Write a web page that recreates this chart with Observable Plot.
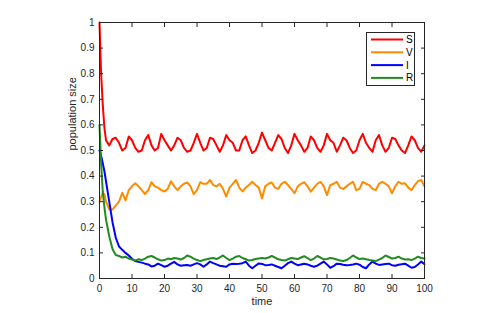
<!DOCTYPE html>
<html><head><meta charset="utf-8">
<script src="https://cdn.jsdelivr.net/npm/d3@7"></script>
<script src="https://cdn.jsdelivr.net/npm/@observablehq/plot@0.6"></script>
<style>
html,body{margin:0;padding:0;background:#fff;}
#wrap{position:relative;width:478px;height:313px;font-family:"Liberation Sans",Arial,sans-serif;}
#legend{position:absolute;left:366px;top:32px;width:47px;height:52px;border:1px solid #262626;background:#fff;}
#legend svg{display:block;}
</style></head><body><div id="wrap"></div>
<script>
const time = [0,0.5,1,1.5,2,
  3,4,5,6,7,8,9,10,
  11,12,13,14,15,16,17,18,19,20,
  21,22,23,24,25,26,27,28,29,30,
  31,32,33,34,35,36,37,38,39,40,
  41,42,43,44,45,46,47,48,49,50,
  51,52,53,54,55,56,57,58,59,60,
  61,62,63,64,65,66,67,68,69,70,
  71,72,73,74,75,76,77,78,79,80,
  81,82,83,84,85,86,87,88,89,90,
  91,92,93,94,95,96,97,98,99,100];
const S = [1.0,0.80,0.68,0.59,0.54,
  0.52,0.545,0.55,0.53,0.50,0.51,0.555,0.54,
  0.51,0.495,0.50,0.54,0.56,0.52,0.50,0.51,0.565,0.54,
  0.52,0.50,0.52,0.55,0.54,0.51,0.495,0.50,0.53,0.565,
  0.53,0.50,0.51,0.55,0.545,0.52,0.495,0.52,0.56,0.54,
  0.53,0.50,0.50,0.54,0.555,0.52,0.49,0.50,0.53,0.57,
  0.54,0.51,0.50,0.53,0.56,0.545,0.51,0.49,0.52,0.565,
  0.54,0.52,0.495,0.51,0.555,0.54,0.51,0.495,0.52,0.565,
  0.54,0.53,0.495,0.52,0.55,0.54,0.51,0.49,0.50,0.54,
  0.565,0.53,0.51,0.495,0.54,0.56,0.52,0.495,0.51,0.55,
  0.545,0.52,0.50,0.49,0.52,0.555,0.54,0.51,0.495,0.52];
const V = [0.30,0.32,0.335,0.33,0.30,
  0.27,0.27,0.285,0.30,0.335,0.305,0.345,0.36,
  0.372,0.36,0.345,0.33,0.345,0.376,0.36,0.355,0.345,0.34,
  0.35,0.38,0.36,0.345,0.36,0.37,0.375,0.36,0.33,0.345,
  0.376,0.37,0.37,0.385,0.365,0.36,0.37,0.35,0.32,0.355,
  0.37,0.385,0.355,0.34,0.355,0.365,0.378,0.365,0.355,0.313,
  0.36,0.37,0.375,0.355,0.35,0.37,0.378,0.365,0.35,0.333,
  0.36,0.37,0.376,0.36,0.339,0.355,0.37,0.378,0.36,0.326,
  0.365,0.37,0.378,0.355,0.35,0.36,0.37,0.378,0.345,0.35,
  0.378,0.37,0.365,0.35,0.345,0.37,0.378,0.37,0.36,0.333,
  0.36,0.378,0.37,0.372,0.355,0.345,0.365,0.38,0.385,0.36];
const I = [0.50,0.48,0.45,0.42,0.38,
  0.30,0.22,0.16,0.125,0.112,0.10,0.09,0.077,
  0.068,0.065,0.062,0.058,0.055,0.047,0.05,0.058,0.052,0.046,
  0.05,0.058,0.065,0.055,0.05,0.052,0.053,0.05,0.055,0.06,
  0.055,0.046,0.055,0.066,0.06,0.055,0.05,0.048,0.046,0.055,
  0.058,0.057,0.058,0.06,0.066,0.05,0.04,0.05,0.059,0.057,
  0.052,0.053,0.055,0.05,0.045,0.04,0.05,0.06,0.066,0.058,
  0.052,0.055,0.058,0.055,0.05,0.046,0.05,0.058,0.066,0.055,
  0.042,0.048,0.058,0.057,0.054,0.052,0.053,0.055,0.058,0.054,
  0.045,0.04,0.055,0.066,0.058,0.053,0.055,0.057,0.058,0.052,
  0.05,0.054,0.056,0.058,0.05,0.042,0.045,0.055,0.066,0.056];
const R = [0.60,0.45,0.34,0.28,0.23,
  0.165,0.115,0.092,0.088,0.082,0.085,0.078,0.074,
  0.07,0.075,0.072,0.078,0.085,0.088,0.082,0.075,0.07,0.072,
  0.078,0.075,0.08,0.078,0.074,0.08,0.09,0.085,0.078,0.072,
  0.068,0.072,0.075,0.078,0.08,0.076,0.082,0.09,0.08,0.072,
  0.078,0.085,0.088,0.08,0.075,0.07,0.072,0.076,0.078,0.08,
  0.078,0.082,0.088,0.082,0.075,0.072,0.07,0.075,0.08,0.078,
  0.076,0.082,0.087,0.08,0.072,0.078,0.088,0.082,0.075,0.076,
  0.08,0.078,0.074,0.07,0.068,0.072,0.08,0.09,0.082,0.076,
  0.078,0.075,0.072,0.07,0.068,0.074,0.08,0.09,0.084,0.078,
  0.08,0.085,0.078,0.074,0.075,0.072,0.078,0.085,0.08,0.078];
const seriesNames = ["S","V","I","R"];
const seriesColors = ["#ff0000","#ff8c00","#0000ff","#228b22"];
const xTicks = [0,10,20,30,40,50,60,70,80,90,100];
const xTickLabels = ["0","10","20","30","40","50","60","70","80","90","100"];
const yTicks = [0,0.1,0.2,0.3,0.4,0.5,0.6,0.7,0.8,0.9,1];
const yTickLabels = ["0","0.1","0.2","0.3","0.4","0.5","0.6","0.7","0.8","0.9","1"];
const xLabel = "time";
const yLabel = "population size";

const seriesValues = [S, V, I, R];
const data = [];
seriesNames.forEach((name, k) => {
  time.forEach((t, i) => data.push({series: name, t, v: seriesValues[k][i]}));
});

const axisColor = "#262626";
const chart = Plot.plot({
  width: 478, height: 313,
  marginLeft: 99, marginRight: 54, marginTop: 22, marginBottom: 35,
  style: {fontFamily: '"Liberation Sans", Arial, sans-serif', fontSize: "10px", color: axisColor, background: "#fff"},
  x: {domain: [0, 100], label: null},
  y: {domain: [0, 1], label: null},
  color: {domain: seriesNames, range: seriesColors},
  marks: [
    Plot.line(data, {x: "t", y: "v", z: "series", stroke: "series", strokeWidth: 2}),
    Plot.axisX(xTicks, {anchor: "bottom", tickSize: -4, tickPadding: 10, stroke: axisColor, fill: axisColor,
      tickFormat: d => xTickLabels[xTicks.indexOf(d)]}),
    Plot.axisX(xTicks, {anchor: "top", tickSize: -4, stroke: axisColor, tickFormat: () => ""}),
    Plot.axisY(yTicks, {anchor: "left", tickSize: -4, tickPadding: 9, stroke: axisColor, fill: axisColor,
      tickFormat: d => yTickLabels[yTicks.indexOf(d)]}),
    Plot.axisY(yTicks, {anchor: "right", tickSize: -4, stroke: axisColor, tickFormat: () => ""}),
    Plot.frame({stroke: axisColor}),
    Plot.text([xLabel], {frameAnchor: "bottom", dy: 26, text: d => d, fontSize: 11, fill: axisColor}),
    Plot.text([yLabel], {frameAnchor: "left", dx: -27, rotate: -90, text: d => d, fontSize: 11, fill: axisColor})
  ]
});
const wrap = document.getElementById("wrap");
wrap.appendChild(chart);

// legend
const leg = d3.select(wrap).append("div").attr("id", "legend");
const lsvg = leg.append("svg").attr("width", 47).attr("height", 52);
seriesNames.forEach((name, k) => {
  const yy = 6.5 + k * 12.8;
  lsvg.append("line").attr("x1", 4).attr("x2", 36).attr("y1", yy).attr("y2", yy)
    .attr("stroke", seriesColors[k]).attr("stroke-width", 2);
  lsvg.append("text").attr("x", 39).attr("y", yy).attr("dy", "0.35em")
    .attr("font-size", 10).attr("font-family", '"Liberation Sans", Arial, sans-serif')
    .attr("fill", "#000").text(name);
});
</script>
</body></html>
